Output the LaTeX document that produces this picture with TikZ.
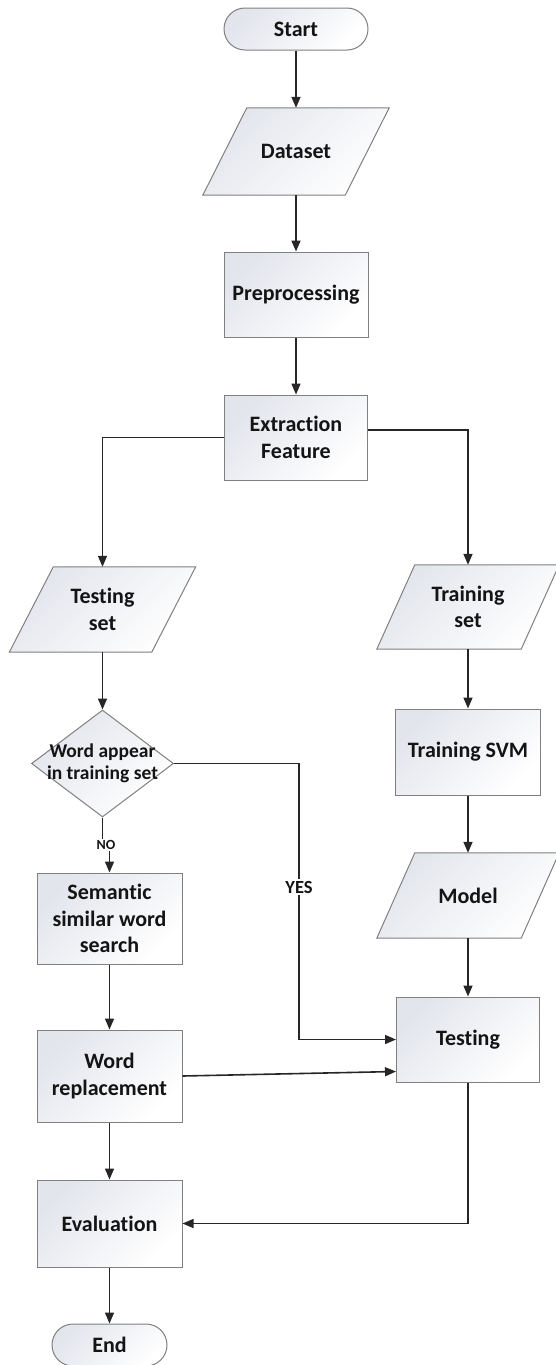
\documentclass[tikz,border=0pt]{standalone}
\usepackage{fontspec}
\setmainfont{Carlito}[Ligatures={NoCommon}]
\usetikzlibrary{arrows.meta,shapes.geometric,backgrounds}
\definecolor{bord}{RGB}{128,128,128}
\definecolor{shadec}{RGB}{226,229,236}
\definecolor{linec}{RGB}{38,38,38}
\definecolor{txt}{RGB}{20,20,20}
\tikzset{
  base/.style={font=\fontsize{22}{26.5}\selectfont\bfseries, text=txt, align=center, inner sep=0pt},
  boxshade/.style={top color=shadec, bottom color=white, shading angle=45},
  pbox/.style={base, rectangle, draw=bord, line width=1pt, boxshade},
  term/.style={pbox, rounded corners=21pt},
  pnode/.style={base, rectangle},
  pshape/.style={draw=bord, line width=1pt, boxshade},
  dec/.style={diamond, draw=bord, line width=1pt, boxshade, inner sep=0pt},
  dectext/.style={font=\fontsize{19.5}{22}\selectfont\bfseries, text=txt, align=center, inner sep=0pt},
  conn/.style={draw=linec, line width=1.6pt, -{Triangle[length=11pt,width=9pt]}},
  connl/.style={draw=linec, line width=1.6pt},
  lab/.style={font=\bfseries, text=txt, fill=white, inner sep=1.5pt}
}
\newcommand\paral[2]{\path[pshape] ([xshift=#2]#1.north west) -- (#1.north east) -- ([xshift=-#2]#1.south east) -- (#1.south west) -- cycle;}
\begin{document}
\begin{tikzpicture}[x=1pt,y=-1pt]
\useasboundingbox (0,0) rectangle (556,1365);
% nodes
\node[term, minimum width=144pt, minimum height=42pt] (start) at (296,29) {Start};
\node[pnode, minimum width=186pt, minimum height=87pt] (data) at (296,151.5) {Dataset};
\node[pbox, minimum width=144pt, minimum height=85pt] (pre) at (296,294.5) {Preprocessing};
\node[pbox, minimum width=143pt, minimum height=85pt] (ext) at (296,437.5) {Extraction\\Feature};
\node[pnode, minimum width=186pt, minimum height=85pt] (testset) at (102.5,609.5) {Testing\\set};
\node[pnode, minimum width=182pt, minimum height=84pt] (trainset) at (468,607) {Training\\set};
\node[dec, minimum width=142pt, minimum height=107pt,
      label={[dectext]center:{Word appear\\in training set}}] (dia) at (102.5,763.5) {};
\node[pbox, minimum width=145pt, minimum height=86pt] (svm) at (468,752) {Training SVM};
\node[pbox, minimum width=145pt, minimum height=91pt] (sem) at (109.5,918.5) {Semantic\\similar word\\search};
\node[pnode, minimum width=182pt, minimum height=85pt] (model) at (468,895.5) {Model};
\node[pbox, minimum width=143pt, minimum height=85pt] (tst) at (468,1039.5) {Testing};
\node[pbox, minimum width=145pt, minimum height=92pt] (wr) at (109.5,1076) {Word\\replacement};
\node[pbox, minimum width=145pt, minimum height=87pt] (eval) at (109.5,1223.5) {Evaluation};
\node[term, minimum width=115pt, minimum height=42pt] (end) at (109.5,1345) {End};
% parallelogram outlines
\begin{scope}[on background layer]
\paral{data}{44pt}
\paral{testset}{44pt}
\paral{trainset}{38pt}
\paral{model}{38pt}
\end{scope}
% connectors
\draw[conn] (start.south) -- (data.north);
\draw[conn] (data.south) -- (pre.north);
\draw[conn] (pre.south) -- (ext.north);
\draw[conn] (ext.west) -| (testset.north);
\draw[conn] ([yshift=7.5pt]ext.east) -| (trainset.north);
\draw[conn] (testset.south) -- (dia.north);
\draw[conn] (trainset.south) -- (svm.north);
\draw[conn] (svm.south) -- (model.north);
\draw[conn] (model.south) -- (tst.north);
\node[lab, font=\fontsize{14}{15}\selectfont\bfseries, fill=none] (no) at (106,845) {NO};
\draw[connl] (dia.south) -- (dia.south |- no.north);
\draw[conn] (sem.north |- no.south) -- (sem.north);
\coordinate (yx) at (299,0);
\draw[conn] (dia.east) -| (yx |- tst.west) -- (tst.west);
\node[lab, font=\fontsize{18.5}{19}\selectfont\bfseries] (yes) at (299,887) {YES};
\draw[conn] (sem.south) -- (wr.north);
\draw[conn] (wr.east) -- ([yshift=-32pt]tst.west);
\draw[conn] (wr.south) -- (eval.north);
\draw[conn] (tst.south) |- (eval.east);
\draw[conn] (eval.south) -- (end.north);
\end{tikzpicture}
\end{document}
